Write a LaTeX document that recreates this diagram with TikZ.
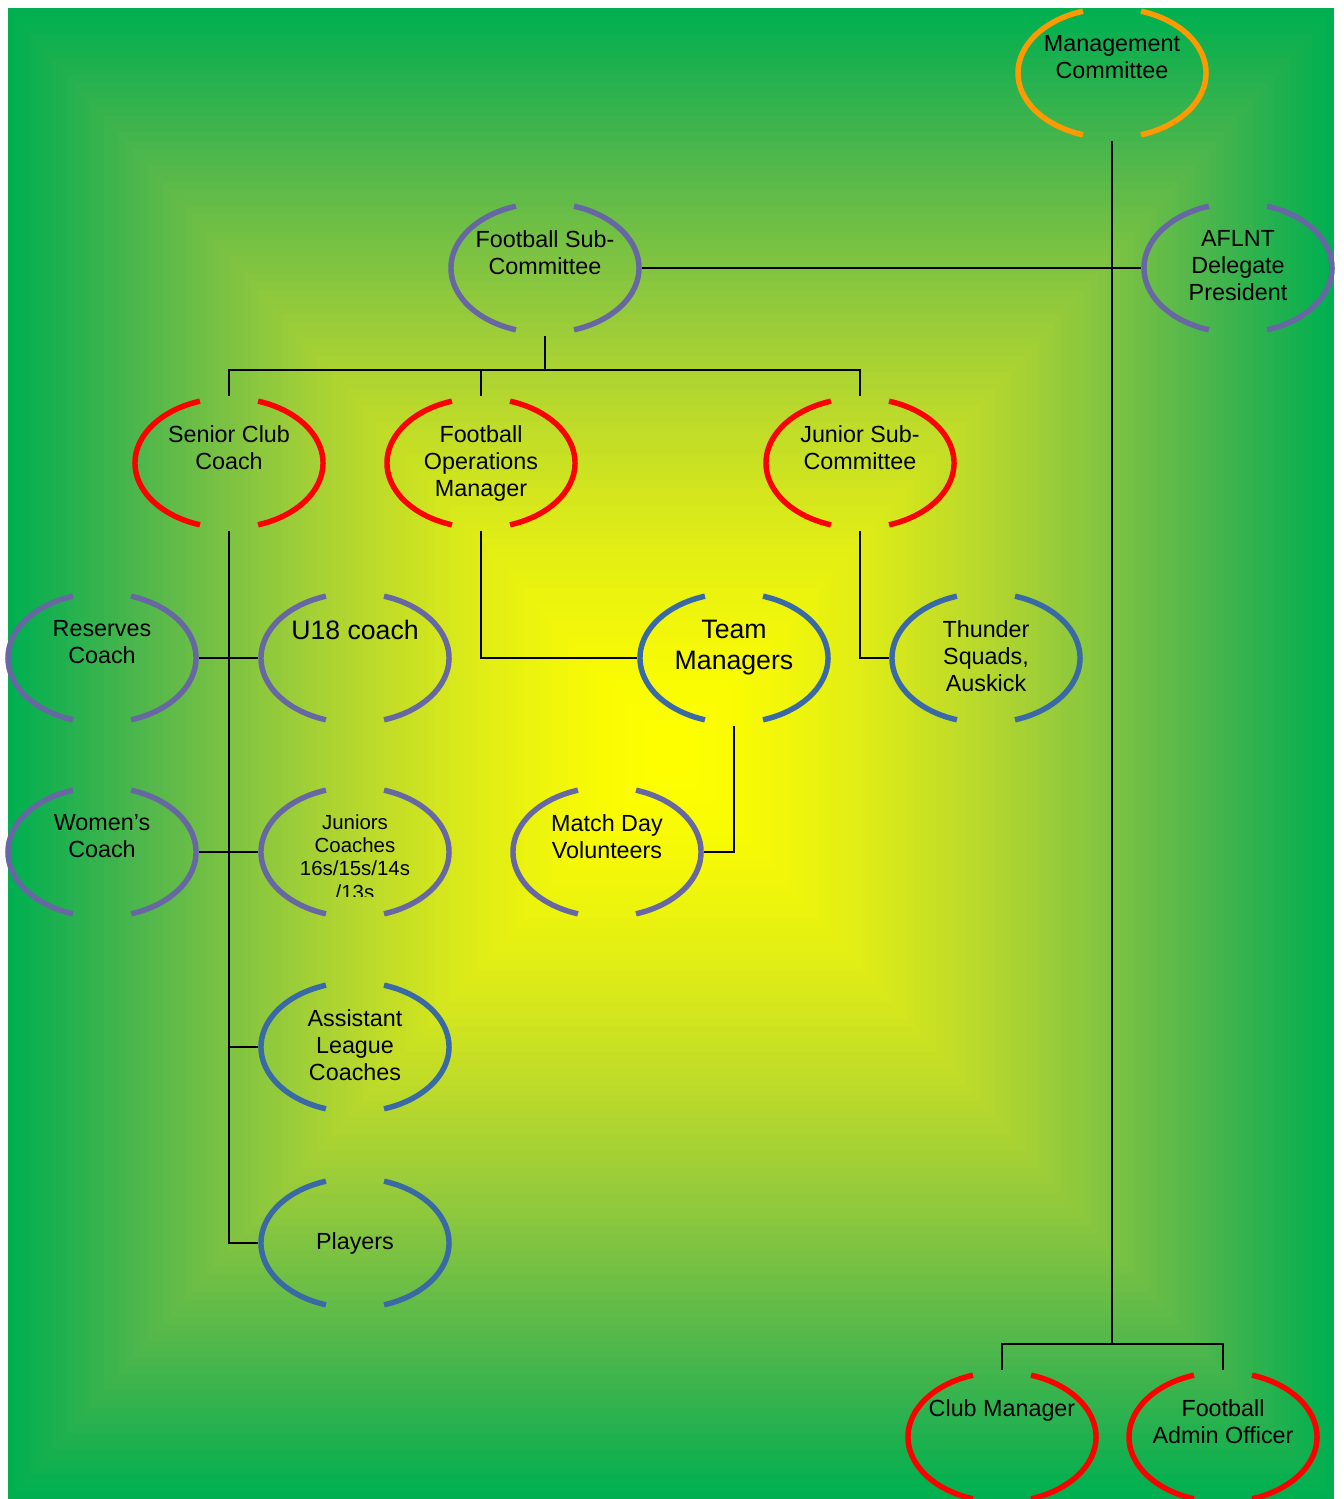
\documentclass[tikz,border=0pt]{standalone}
\usepackage{fontspec}
\setmainfont{Liberation Sans}
\usetikzlibrary{shapes.geometric}
\usetikzlibrary{calc}

\definecolor{ringorange}{RGB}{255,153,0}
\definecolor{ringred}{RGB}{255,0,0}
\definecolor{ringpurple}{RGB}{103,103,163}
\definecolor{ringblue}{RGB}{58,106,165}

% open ring: name, centre, colour, text
\newcommand{\ring}[5][]{%
	\node[ringbox] (#2) at (#3) {};
	\draw[ringline, #4] ($(#2.center)+(72:70.5pt and 48.75pt)$) arc[start angle=72, end angle=-72, x radius=70.5pt, y radius=48.75pt];
	\draw[ringline, #4] ($(#2.center)+(108:70.5pt and 48.75pt)$) arc[start angle=108, end angle=252, x radius=70.5pt, y radius=48.75pt];
	\node[ringtext, #1] (#2-t) at ([yshift=28.5pt]#2.center) {#5};
}

\begin{document}
\begin{tikzpicture}[x=0.75pt, y=-0.75pt,
	ringbox/.style={ellipse, minimum width=145.5pt, minimum height=101.25pt, inner sep=0pt, outer sep=0pt},
	ringline/.style={line width=4.1pt},
	ringtext/.style={anchor=north, inner sep=0pt, align=center, font=\fontsize{17.5}{20.25}\selectfont},
	bigtext/.style={font=\fontsize{20}{23.25}\selectfont},
	smalltext/.style={font=\fontsize{15.3}{17.6}\selectfont},
	link/.style={line width=1.2pt, black}]
	\useasboundingbox (0,0) rectangle (1344,1499);
	% background
	\foreach \i in {0,...,89}{
		\pgfmathsetmacro{\spread}{1-\i/90}
		\pgfmathsetmacro{\yel}{1-\spread^1.7}
		\pgfmathtruncatemacro{\bgr}{255*\yel}
		\pgfmathtruncatemacro{\bgg}{176+79*\yel*\yel}
		\pgfmathtruncatemacro{\bgb}{80*(1-\yel*\yel*sqrt(\yel))}
		\definecolor{bgmix}{RGB}{\bgr,\bgg,\bgb}
		\fill[bgmix] (671-663*\spread,753.5-745.5*\spread) rectangle (671+663*\spread,753.5+745.5*\spread);
	}
	\ring{mgmt}{1112,73}{ringorange}{Management\\Committee}
	\ring{fsub}{545,268}{ringpurple}{Football Sub-\\Committee}
	\ring{aflnt}{1238,268}{ringpurple}{AFLNT\\Delegate\\President}
	\ring{senior}{229,463}{ringred}{Senior Club\\Coach}
	\ring{fom}{481,463}{ringred}{Football\\Operations\\Manager}
	\ring{jsub}{860,463}{ringred}{Junior Sub-\\Committee}
	\ring{reserves}{102,658}{ringpurple}{Reserves\\Coach}
	\ring[bigtext]{u18}{355,658}{ringpurple}{U18 coach}
	\ring[bigtext]{teamman}{734,658}{ringblue}{Team\\Managers}
	\ring{thunder}{986,658}{ringblue}{Thunder\\Squads,\\Auskick}
	\ring{womens}{102,852}{ringpurple}{Women’s\\Coach}
	\ring{juniors}{355,852}{ringpurple}{}
	\begin{scope}
		\clip (280,780) rectangle (430,896);
		\node[ringtext, smalltext] (juniors-txt) at ([yshift=28.5pt]juniors.center) {Juniors\\Coaches\\16s/15s/14s\\/13s};
	\end{scope}
	\ring{matchday}{607,852}{ringpurple}{Match Day\\Volunteers}
	\ring{assist}{355,1047}{ringblue}{Assistant\\League\\Coaches}
	\ring[anchor=center, yshift=-28.5pt]{players}{355,1243}{ringblue}{Players}
	\ring{clubman}{1002,1437}{ringred}{Club Manager}
	\ring{admin}{1223,1437}{ringred}{Football\\Admin Officer}
	% connectors
	\coordinate (mgmtbus) at (1112,1344);
	\coordinate (fsubbus) at (545,370);
	\draw[link] (mgmt.south) -- (mgmtbus);
	\draw[link] (clubman.north) |- (mgmtbus);
	\draw[link] (admin.north) |- (mgmtbus);
	\draw[link] (fsub.east) -- (aflnt.west);
	\draw[link] (fsub.south) -- (fsubbus);
	\foreach \sub in {senior,fom,jsub}
		\draw[link] (\sub.north) |- (fsubbus);
	\draw[link] (senior.south) |- (players.west);
	\draw[link] (reserves.east) -- (u18.west);
	\draw[link] (womens.east) -- (juniors.west);
	\draw[link] (assist.west) -- (assist.west -| senior.south);
	\draw[link] (fom.south) |- (teamman.west);
	\draw[link] (teamman.south) |- (matchday.east);
	\draw[link] (jsub.south) |- (thunder.west);
\end{tikzpicture}
\end{document}
